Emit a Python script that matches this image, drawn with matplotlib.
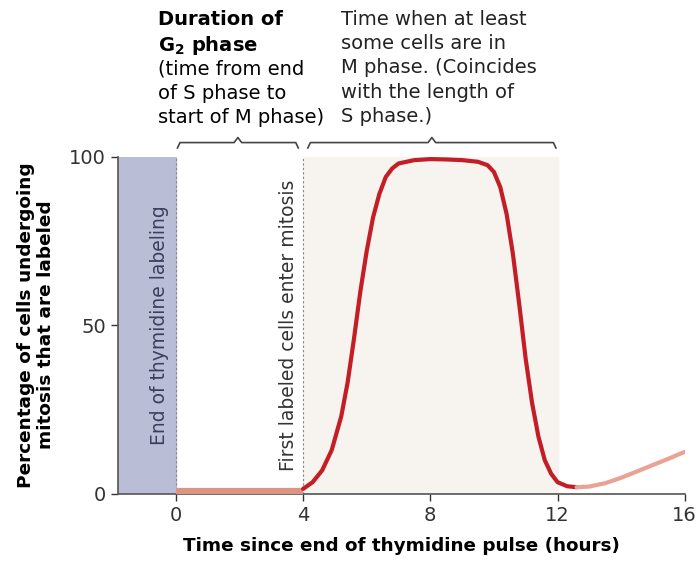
import matplotlib.pyplot as plt

plt.rcParams['font.family'] = ['DejaVu Sans']

# curve values
base_x = [0, 1, 2, 3, 4]
base_y = [1, 1, 1, 1, 1]

main_x = [4.0, 4.3, 4.6, 4.9, 5.2, 5.4, 5.6, 5.8, 6.0, 6.2, 6.4, 6.6, 6.8, 7.0, 7.5,
          8.0, 8.5, 9.0, 9.5, 9.8, 10.0, 10.2, 10.4, 10.6, 10.8, 11.0, 11.2, 11.4,
          11.6, 11.8, 12.0, 12.3, 12.6]
main_y = [1.5, 3.5, 7, 13, 23, 33, 46, 60, 72, 82, 89, 94, 96.5, 98, 99,
          99.3, 99.2, 99, 98.5, 97.5, 95.5, 91, 83, 71, 56, 40, 27, 17,
          10, 6, 3.5, 2.3, 2]

tail_x = [12.6, 13.0, 13.5, 14.0, 14.5, 15.0, 15.5, 16.0]
tail_y = [2, 2.2, 3.2, 4.8, 6.7, 8.6, 10.5, 12.5]

x_ticks = [0, 4, 8, 12, 16]
y_ticks = [0, 50, 100]

fig = plt.figure(figsize=(6.98, 5.63), dpi=100)
ax = fig.add_axes([0.169, 0.1226, 0.812, 0.599])
ax.set_xlim(-1.82, 16)
ax.set_ylim(0, 100)

# shaded regions
ax.axvspan(-1.82, 0, color='#b9bdd5', zorder=0)
ax.axvspan(4, 12, color='#f7f3ee', zorder=0)
ax.axvline(0, color='#888888', ls=(0, (2, 2)), lw=0.8)
ax.axvline(4, color='#888888', ls=(0, (2, 2)), lw=0.8)

ax.plot(base_x, base_y, color='#dc9483', lw=4.5, solid_capstyle='butt', zorder=3)
ax.plot(main_x, main_y, color='#c31d26', lw=3, solid_capstyle='round', zorder=4)
ax.plot(tail_x, tail_y, color='#e9a293', lw=3, solid_capstyle='round', zorder=4)

ax.set_xticks(x_ticks)
ax.set_yticks(y_ticks)
ax.tick_params(labelsize=14, colors='#333333', length=5, width=1, direction='out')
for s in ['top', 'right']:
    ax.spines[s].set_visible(False)
for s in ['left', 'bottom']:
    ax.spines[s].set_color('#555555')
    ax.spines[s].set_linewidth(1.2)

ax.set_xlabel('Time since end of thymidine pulse (hours)', fontsize=13.2,
              fontweight='bold', labelpad=9)
fig.text(0.052, 0.423, 'Percentage of cells undergoing\nmitosis that are labeled',
         rotation=90, ha='center', va='center', fontsize=13.3, fontweight='bold',
         linespacing=1.15)

# vertical notes
ax.text(-0.5, 50, 'End of thymidine labeling', rotation=90, ha='center', va='center',
        fontsize=13.5, color='#3b3f5e')
ax.text(3.55, 50, 'First labeled cells enter mitosis', rotation=90, ha='center',
        va='center', fontsize=13.5, color='#333333')


def brace(x0, x1, y=104.2, drop=1.6, tip=1.5):
    xm = (x0 + x1) / 2
    kw = dict(color='#444444', lw=1.2, clip_on=False)
    ax.plot([x0, x0 + 0.08, xm - 0.12, xm, xm + 0.12, x1 - 0.08, x1],
            [y - drop, y, y, y + tip, y, y, y - drop], **kw)


brace(0.05, 3.85)
brace(4.15, 11.95)

fig.text(0.226, 0.983, 'Duration of\nG$_\\mathbf{2}$ phase', ha='left', va='top',
         fontsize=14, fontweight='bold', linespacing=1.3)
fig.text(0.226, 0.894, '(time from end\nof S phase to\nstart of M phase)', ha='left',
         va='top', fontsize=14, linespacing=1.35)
fig.text(0.489, 0.983, 'Time when at least\nsome cells are in\nM phase. (Coincides\n'
         'with the length of\nS phase.)', ha='left', va='top', fontsize=14,
         linespacing=1.36, color='#222222')

fig.savefig('out.png', dpi=100)
